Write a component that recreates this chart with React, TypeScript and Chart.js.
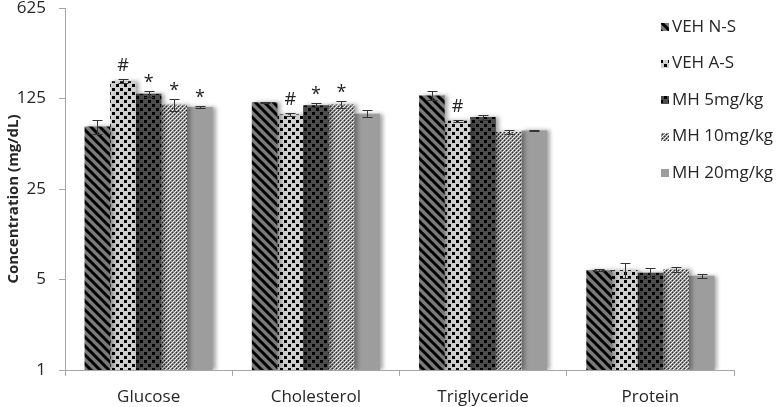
import React, { useEffect, useRef } from "react";
import { Chart, registerables } from "chart.js";

Chart.register(...registerables);

const categories = ["Glucose", "Cholesterol", "Triglyceride", "Protein"];
const seriesNames = ["VEH N-S", "VEH A-S", "MH 5mg/kg", "MH 10mg/kg", "MH 20mg/kg"];
const vehNS = [76, 117, 132, 5.9];
const vehAS = [170, 94, 84, 5.9];
const mh5 = [136, 111, 90, 5.65];
const mh10 = [112, 112.5, 69, 6.0];
const mh20 = [107.5, 95.4, 70.8, 5.35];
const errNS = [9, 1.5, 10, 0.1];
const errAS = [6, 2, 1.5, 0.8];
const err5 = [8, 3.5, 4, 0.45];
const err10 = [12, 7, 3, 0.3];
const err20 = [2.5, 6, 0.8, 0.2];
const marksAS = ["#", "#", "#", ""];
const marks5 = ["*", "*", "", ""];
const marks10 = ["*", "*", "", ""];
const marks20 = ["*", "", "", ""];
const marksNS = ["", "", "", ""];
const yTicks = [1, 5, 25, 125, 625];
const yTitle = "Concentration (mg/dL)";

const FONT = "'Open Sans', 'DejaVu Sans', sans-serif";

function makeTile(w: number, h: number, draw: (c: CanvasRenderingContext2D) => void) {
  const cv = document.createElement("canvas");
  cv.width = w;
  cv.height = h;
  const c = cv.getContext("2d")!;
  draw(c);
  return cv;
}

function buildPatterns(ctx: CanvasRenderingContext2D) {
  const stripe = makeTile(9, 9, (c) => {
    c.fillStyle = "#7a7a7a";
    c.fillRect(0, 0, 9, 9);
    c.strokeStyle = "#000";
    c.lineWidth = 3;
    c.beginPath();
    c.moveTo(-2, -2);
    c.lineTo(11, 11);
    c.moveTo(-11, -2);
    c.lineTo(2, 11);
    c.moveTo(7, -2);
    c.lineTo(20, 11);
    c.stroke();
  });
  const dotsLight = makeTile(8, 8, (c) => {
    c.fillStyle = "#cfcfcf";
    c.fillRect(0, 0, 8, 8);
    c.fillStyle = "#000";
    c.fillRect(0, 0, 3, 3);
    c.fillRect(4, 4, 3, 3);
  });
  const dotsDark = makeTile(8, 8, (c) => {
    c.fillStyle = "#4d4d4d";
    c.fillRect(0, 0, 8, 8);
    c.fillStyle = "#000";
    c.fillRect(0, 0, 3, 3);
    c.fillRect(4, 4, 3, 3);
  });
  const sphere = makeTile(4, 4, (c) => {
    c.fillStyle = "#8c8c8c";
    c.fillRect(0, 0, 4, 4);
    c.fillStyle = "#262626";
    c.fillRect(0, 0, 1, 1);
    c.fillRect(2, 2, 1, 1);
    c.fillStyle = "#f2f2f2";
    c.fillRect(2, 0, 1, 1);
    c.fillRect(0, 2, 1, 1);
    c.fillRect(1, 1, 1, 1);
    c.fillRect(3, 3, 1, 1);
  });
  return [
    ctx.createPattern(stripe, "repeat")!,
    ctx.createPattern(dotsLight, "repeat")!,
    ctx.createPattern(dotsDark, "repeat")!,
    ctx.createPattern(sphere, "repeat")!,
    "#9d9d9d",
  ];
}

export default function App() {
  const ref = useRef<HTMLCanvasElement | null>(null);

  useEffect(() => {
    const canvas = ref.current!;
    const ctx = canvas.getContext("2d")!;
    const fills = buildPatterns(ctx);
    const values = [vehNS, vehAS, mh5, mh10, mh20];
    const errs = [errNS, errAS, err5, err10, err20];
    const marks = [marksNS, marksAS, marks5, marks10, marks20];

    const shadowPlugin = {
      id: "barShadow",
      beforeDatasetsDraw(chart: any) {
        const c = chart.ctx;
        c.save();
        c.shadowColor = "rgba(0,0,0,0.35)";
        c.shadowBlur = 4;
        c.shadowOffsetX = 3;
        c.shadowOffsetY = 0;
      },
      afterDatasetsDraw(chart: any) {
        chart.ctx.restore();
      },
    };

    const errorPlugin = {
      id: "errorBars",
      afterDatasetsDraw(chart: any) {
        const c = chart.ctx;
        const y = chart.scales.y;
        c.save();
        c.strokeStyle = "#333";
        c.lineWidth = 1;
        chart.data.datasets.forEach((ds: any, di: number) => {
          const meta = chart.getDatasetMeta(di);
          meta.data.forEach((bar: any, i: number) => {
            const v = values[di][i];
            const e = errs[di][i];
            const yt = Math.round(y.getPixelForValue(v + e)) + 0.5;
            const yb = Math.round(y.getPixelForValue(Math.max(v - e, 1))) + 0.5;
            const x = Math.round(bar.x) + 0.5;
            c.beginPath();
            c.moveTo(x, yt);
            c.lineTo(x, yb);
            c.moveTo(x - 5, yt);
            c.lineTo(x + 5, yt);
            c.moveTo(x - 5, yb);
            c.lineTo(x + 5, yb);
            c.stroke();
            const m = marks[di][i];
            if (m) {
              c.fillStyle = "#222";
              c.font = `18px ${FONT}`;
              c.textAlign = "center";
              c.textBaseline = "alphabetic";
              c.fillText(m, bar.x, yt - (m === "#" ? 9 : 4));
            }
          });
        });
        c.restore();
      },
    };

    const legendPlugin = {
      id: "customLegend",
      afterDraw(chart: any) {
        const c = chart.ctx;
        c.save();
        seriesNames.forEach((name, i) => {
          const cy = 27 + i * 36.5;
          c.fillStyle = fills[i] as any;
          c.fillRect(661, Math.round(cy - 4), 8, 8);
          c.fillStyle = "#262626";
          c.font = `17px ${FONT}`;
          c.textAlign = "left";
          c.textBaseline = "middle";
          c.fillText(name, 672, cy);
        });
        // y-axis title
        c.translate(14, 199);
        c.rotate(-Math.PI / 2);
        c.fillStyle = "#262626";
        c.font = `bold 15px ${FONT}`;
        c.textAlign = "center";
        c.textBaseline = "middle";
        c.fillText(yTitle, 0, 0);
        c.restore();
      },
    };

    const chart = new Chart(ctx, {
      type: "bar",
      data: {
        labels: categories,
        datasets: seriesNames.map((name, i) => ({
          label: name,
          data: values[i],
          backgroundColor: fills[i] as any,
          borderWidth: 0,
          categoryPercentage: 0.766,
          barPercentage: 1,
        })),
      },
      options: {
        responsive: false,
        animation: false,
        layout: { padding: { top: 8, right: 43, left: 0, bottom: 0 } },
        plugins: { legend: { display: false }, tooltip: { enabled: false } },
        scales: {
          x: {
            grid: {
              offset: true,
              drawOnChartArea: false,
              tickLength: 6,
              color: "#a6a6a6",
            },
            border: { color: "#a6a6a6" },
            ticks: {
              color: "#262626",
              font: { family: FONT, size: 17 },
              padding: 11,
            },
            afterFit(scale: any) {
              scale.height = 37;
              scale.paddingLeft = 0;
              scale.paddingRight = 0;
            },
          },
          y: {
            type: "logarithmic",
            min: 1,
            max: 625,
            grid: {
              drawOnChartArea: false,
              tickLength: 6,
              color: "#a6a6a6",
            },
            border: { color: "#a6a6a6" },
            afterBuildTicks(scale: any) {
              scale.ticks = yTicks.map((v) => ({ value: v }));
            },
            ticks: {
              color: "#262626",
              font: { family: FONT, size: 17 },
              padding: 13,
              callback: (v: any) => String(v),
            },
            title: { display: false },
            afterFit(scale: any) {
              scale.width = 65;
              scale.paddingTop = 0;
              scale.paddingBottom = 0;
            },
          },
        },
      },
      plugins: [shadowPlugin, errorPlugin, legendPlugin],
    });
    return () => chart.destroy();
  }, []);

  return (
    <div style={{ position: "fixed", left: 0, top: 0, width: 777, height: 407, background: "#fff" }}>
      <canvas ref={ref} width={777} height={407} style={{ width: 777, height: 407, display: "block" }} />
    </div>
  );
}
